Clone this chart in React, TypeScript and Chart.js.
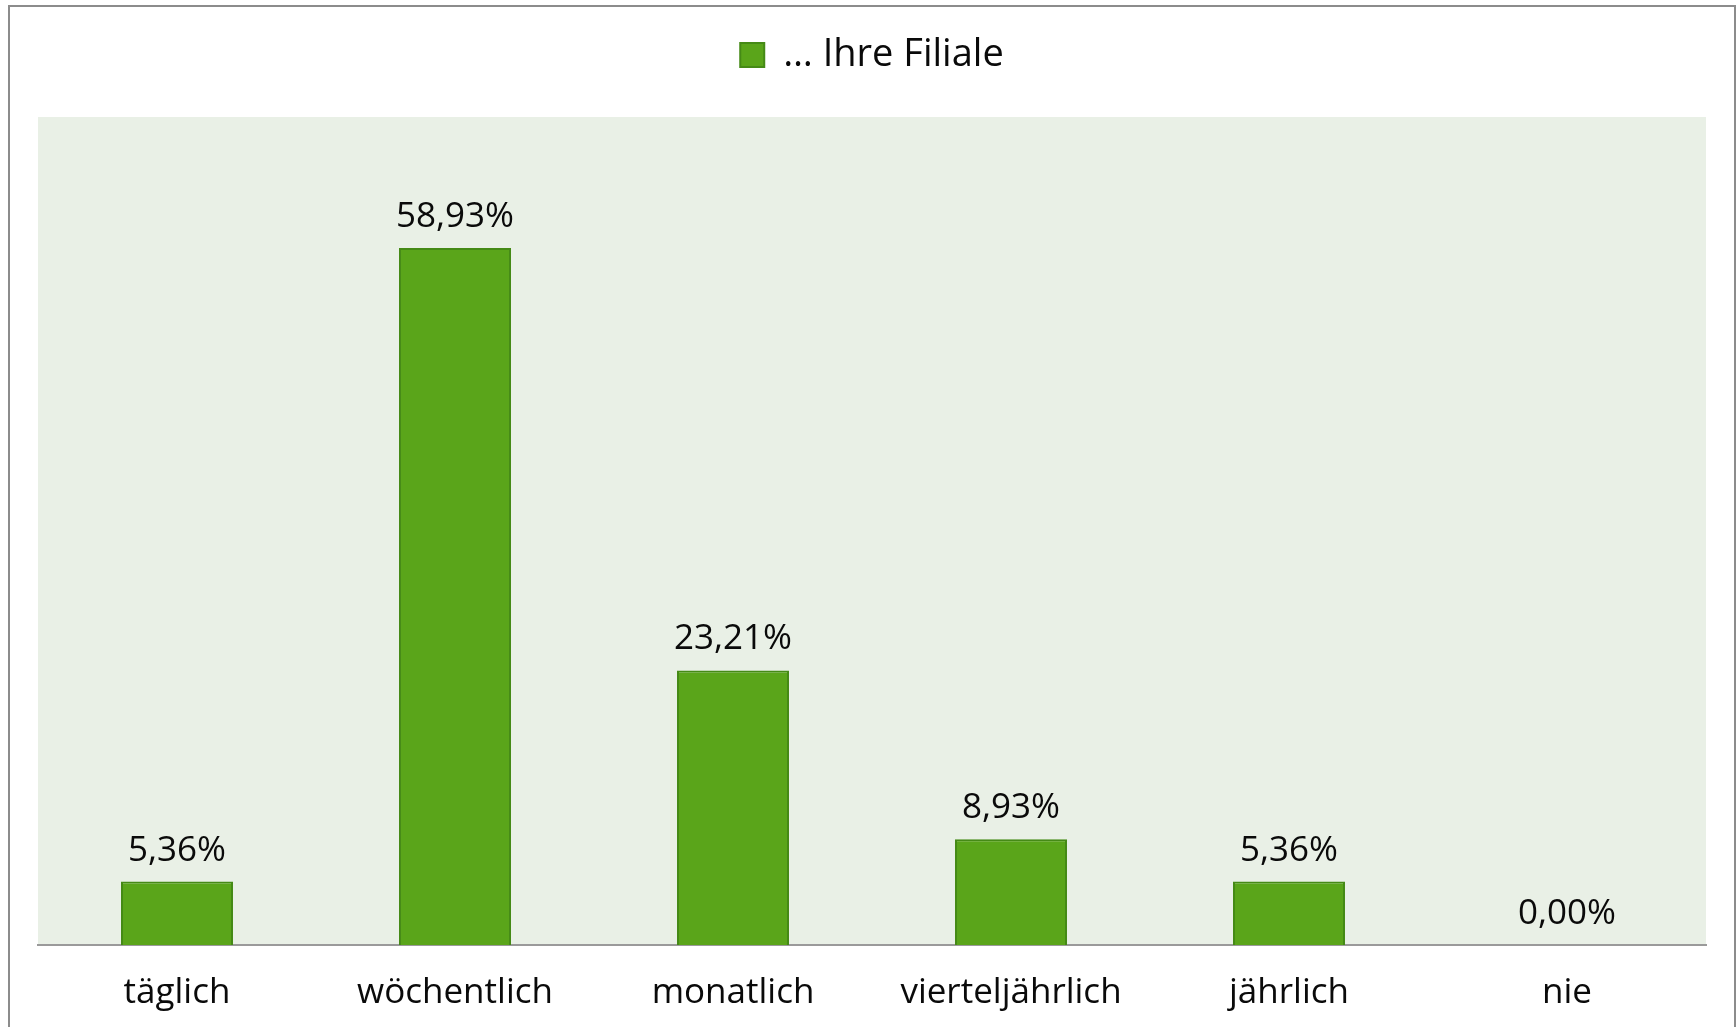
import React, { useEffect, useRef } from "react";
import { Chart, registerables } from "chart.js";

Chart.register(...registerables);

const categories = ["täglich", "wöchentlich", "monatlich", "vierteljährlich", "jährlich", "nie"];
const seriesLabel = "… Ihre Filiale";
const seriesValues = [5.36, 58.93, 23.21, 8.93, 5.36, 0.0];

const FONT = "'Open Sans', 'Noto Sans', sans-serif";

const plotBgPlugin = {
  id: "plotBg",
  beforeDraw(chart: any) {
    const { ctx, chartArea } = chart;
    if (!chartArea) return;
    ctx.save();
    ctx.fillStyle = "#e9f0e6";
    ctx.fillRect(chartArea.left, chartArea.top, chartArea.right - chartArea.left, chartArea.bottom - chartArea.top);
    ctx.restore();
  },
};

const valueLabelPlugin = {
  id: "valueLabels",
  afterDatasetsDraw(chart: any) {
    const { ctx } = chart;
    const meta = chart.getDatasetMeta(0);
    const data = chart.data.datasets[0].data as number[];
    ctx.save();
    ctx.font = `35px ${FONT}`;
    ctx.fillStyle = "#0a0a0a";
    ctx.textAlign = "center";
    ctx.textBaseline = "alphabetic";
    meta.data.forEach((el: any, i: number) => {
      const txt = data[i].toFixed(2).replace(".", ",") + "%";
      ctx.fillText(txt, el.x, el.y - 21);
    });
    ctx.restore();
  },
};

const legendSpacePlugin = {
  id: "legendSpace",
  beforeInit(chart: any) {
    const legend = chart.legend;
    if (!legend) return;
    const orig = legend.fit;
    legend.fit = function () {
      orig.call(this);
      this.height += 33;
    };
  },
};

export default function App() {
  const ref = useRef<HTMLCanvasElement | null>(null);

  useEffect(() => {
    if (!ref.current) return;
    const chart = new Chart(ref.current, {
      type: "bar",
      data: {
        labels: categories,
        datasets: [
          {
            label: seriesLabel,
            data: seriesValues,
            backgroundColor: "#5aa51a",
            borderColor: "#458a16",
            borderWidth: 2,
            barPercentage: 0.403,
            categoryPercentage: 1,
          },
        ],
      },
      options: {
        responsive: false,
        animation: false,
        devicePixelRatio: 1,
        layout: { padding: { left: 28, right: 28, top: 0, bottom: 0 } },
        plugins: {
          legend: {
            display: true,
            position: "top",
            labels: {
              font: { family: FONT, size: 38 },
              color: "#0a0a0a",
              boxWidth: 24,
              boxHeight: 24,
              padding: 29,
            },
          },
          tooltip: { enabled: false },
        },
        scales: {
          x: {
            grid: { display: false, drawTicks: false },
            border: { display: true, color: "#9a9a9a", width: 2 },
            ticks: {
              font: { family: FONT, size: 35 },
              color: "#0a0a0a",
              padding: 27,
            },
            afterFit(scale: any) {
              scale.height = 82;
            },
          },
          y: {
            display: false,
            min: 0,
            max: 70,
          },
        },
      },
      plugins: [legendSpacePlugin, plotBgPlugin, valueLabelPlugin],
    });
    return () => chart.destroy();
  }, []);

  return (
    <div
      style={{
        position: "fixed",
        left: 8,
        top: 5,
        width: 1728,
        height: 1040,
        boxSizing: "border-box",
        border: "2px solid #8c8c8c",
        background: "#ffffff",
        overflow: "hidden",
      }}
    >
      <canvas ref={ref} width={1724} height={1020} style={{ display: "block" }} />
    </div>
  );
}
